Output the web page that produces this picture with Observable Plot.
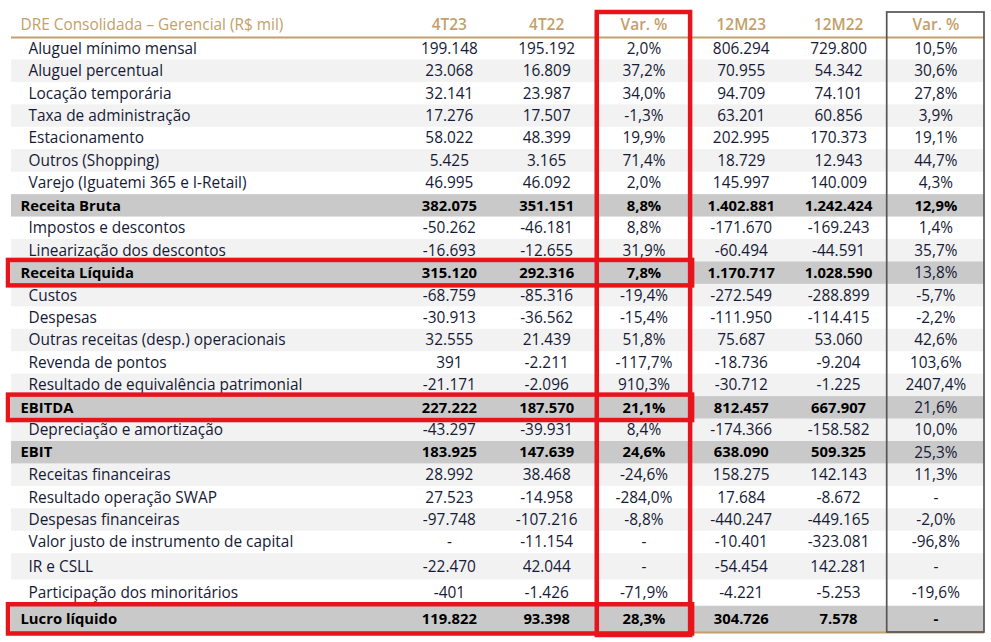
<!DOCTYPE html>
<html>
<head>
<meta charset="utf-8">
<script src="https://cdn.jsdelivr.net/npm/d3@7"></script>
<script src="https://cdn.jsdelivr.net/npm/@observablehq/plot@0.6"></script>
<style>
  html, body { margin: 0; padding: 0; background: #ffffff; }
</style>
</head>
<body>
<div id="chart"></div>
<script>
// ---------------- DATA ----------------
const title = "DRE Consolidada – Gerencial (R$ mil)";
const columns = ["4T23", "4T22", "Var. %", "12M23", "12M22", "Var. %"];
const labels = [
  "Aluguel mínimo mensal",
  "Aluguel percentual",
  "Locação temporária",
  "Taxa de administração",
  "Estacionamento",
  "Outros (Shopping)",
  "Varejo (Iguatemi 365 e I-Retail)",
  "Receita Bruta",
  "Impostos e descontos",
  "Linearização dos descontos",
  "Receita Líquida",
  "Custos",
  "Despesas",
  "Outras receitas (desp.) operacionais",
  "Revenda de pontos",
  "Resultado de equivalência patrimonial",
  "EBITDA",
  "Depreciação e amortização",
  "EBIT",
  "Receitas financeiras",
  "Resultado operação SWAP",
  "Despesas financeiras",
  "Valor justo de instrumento de capital",
  "IR e CSLL",
  "Participação dos minoritários",
  "Lucro líquido"
];
const q4_23 = [199148, 23068, 32141, 17276, 58022, 5425, 46995, 382075, -50262, -16693, 315120,
  -68759, -30913, 32555, 391, -21171, 227222, -43297, 183925, 28992, 27523, -97748, null, -22470, -401, 119822];
const q4_22 = [195192, 16809, 23987, 17507, 48399, 3165, 46092, 351151, -46181, -12655, 292316,
  -85316, -36562, 21439, -2211, -2096, 187570, -39931, 147639, 38468, -14958, -107216, -11154, 42044, -1426, 93398];
const var4 = [2.0, 37.2, 34.0, -1.3, 19.9, 71.4, 2.0, 8.8, 8.8, 31.9, 7.8,
  -19.4, -15.4, 51.8, -117.7, 910.3, 21.1, 8.4, 24.6, -24.6, -284.0, -8.8, null, null, -71.9, 28.3];
const y12_23 = [806294, 70955, 94709, 63201, 202995, 18729, 145997, 1402881, -171670, -60494, 1170717,
  -272549, -111950, 75687, -18736, -30712, 812457, -174366, 638090, 158275, 17684, -440247, -10401, -54454, -4221, 304726];
const y12_22 = [729800, 54342, 74101, 60856, 170373, 12943, 140009, 1242424, -169243, -44591, 1028590,
  -288899, -114415, 53060, -9204, -1225, 667907, -158582, 509325, 142143, -8672, -449165, -323081, 142281, -5253, 7578];
const var12 = [10.5, 30.6, 27.8, 3.9, 19.1, 44.7, 4.3, 12.9, 1.4, 35.7, 13.8,
  -5.7, -2.2, 42.6, 103.6, 2407.4, 21.6, 10.0, 25.3, 11.3, null, -2.0, -96.8, null, -19.6, null];

const totalRows = ["Receita Bruta", "Receita Líquida", "EBITDA", "EBIT", "Lucro líquido"];
const highlightedRows = ["Receita Líquida", "EBITDA", "Lucro líquido"];
const boldVar12Rows = ["Receita Bruta", "Lucro líquido"];

// ---------------- LAYOUT / STYLE ----------------
const tan = "#c4a06a";
const red = "#e8141c";
const ink = "#161a36";
const lightGray = "#f2f2f2";
const darkGray = "#c9c9c9";

const tallRows = new Set(["IR e CSLL", "Participação dos minoritários", "Lucro líquido"]);
const headerH = 1.1;
const labelCols = 4;
const colStart = k => labelCols + k;

let acc = 0;
const rows = labels.map((label, i) => {
  const h = tallRows.has(label) ? 1.17 : 1;
  const r = {label, i, y1: acc, y2: acc + h, ym: acc + h / 2,
    total: totalRows.includes(label), tableStart: 0, redEnd: colStart(3)};
  acc += h;
  return r;
});
const tableEnd = acc;

const loc = d3.formatLocale({decimal: ",", thousands: ".", grouping: [3], currency: ["R$", ""], minus: "-"});
const fmtN = loc.format(",d");
const fmtP = loc.format(".1f");

const series = [q4_23, q4_22, var4, y12_23, y12_22, var12];
const cells = rows.flatMap(r => series.map((s, k) => {
  const v = s[r.i];
  const pct = k === 2 || k === 5;
  return {
    x: colStart(k) + 0.5,
    y: r.ym,
    text: v == null ? "-" : (pct ? fmtP(v) + "%" : fmtN(v)),
    bold: r.total && (k !== 5 || boldVar12Rows.includes(r.label))
  };
}));

const chart = Plot.plot({
  width: 991,
  height: 642,
  marginLeft: 11,
  marginRight: 7,
  marginTop: 12,
  marginBottom: 10,
  x: {type: "linear", domain: [0, labelCols + columns.length], range: [11, 984], axis: null},
  y: {type: "linear", domain: [-headerH, tableEnd], range: [12.3, 632], axis: null},
  style: {fontFamily: "'Open Sans', sans-serif", fontSize: "15.4px", background: "#ffffff"},
  marks: [
    // stripes
    Plot.rect(rows.filter(r => !r.total && r.i % 2 === 1), {y1: "y1", y2: "y2", fill: lightGray}),
    Plot.rect(rows.filter(r => r.total), {y1: "y1", y2: "y2", fill: darkGray}),
    // column separator
    Plot.ruleX([colStart(2)], {stroke: "#9c9c9c", strokeWidth: 1}),
    // header & bottom lines
    Plot.ruleY([0], {stroke: tan, strokeWidth: 2}),
    Plot.ruleY([tableEnd], {stroke: tan, strokeWidth: 2}),
    // title and column headers
    Plot.text([title], {y: () => -headerH / 2, text: d => d, frameAnchor: "left", dx: 9,
      textAnchor: "start", fill: tan, fontSize: 15.4}),
    Plot.text(columns, {x: (d, k) => colStart(k) + 0.5, y: () => -headerH / 2, text: d => d,
      fill: tan, fontSize: 15.4, fontWeight: 600}),
    // row labels
    Plot.text(rows.filter(r => !r.total), {y: "ym", text: "label", frameAnchor: "left", dx: 17,
      textAnchor: "start", fill: ink, fontSize: 15.4}),
    Plot.text(rows.filter(r => r.total), {y: "ym", text: "label", frameAnchor: "left", dx: 9,
      textAnchor: "start", fill: "#000", fontWeight: 700, fontSize: 14.8}),
    // values
    Plot.text(cells.filter(c => !c.bold), {x: "x", y: "y", text: "text", fill: ink, fontSize: 15.4}),
    Plot.text(cells.filter(c => c.bold), {x: "x", y: "y", text: "text", fill: "#000", fontWeight: 700, fontSize: 14.8}),
    // 12M variation box
    Plot.rect([5], {x1: k => colStart(k), x2: k => colStart(k) + 1, fill: "none", stroke: "#555555", strokeWidth: 1.7}),
    // red highlight boxes
    Plot.rect([2], {x1: k => colStart(k), x2: k => colStart(k) + 1, fill: "none", stroke: red, strokeWidth: 4.5,
      insetLeft: 2, insetRight: 2, insetBottom: -3}),
    Plot.rect(rows.filter(r => highlightedRows.includes(r.label)), {x1: "tableStart", x2: "redEnd", y1: "y1", y2: "y2",
      fill: "none", stroke: red, strokeWidth: 4.5, insetLeft: -3, insetTop: -1.5, insetBottom: -1.5})
  ]
});
document.getElementById("chart").append(chart);
</script>
</body>
</html>
